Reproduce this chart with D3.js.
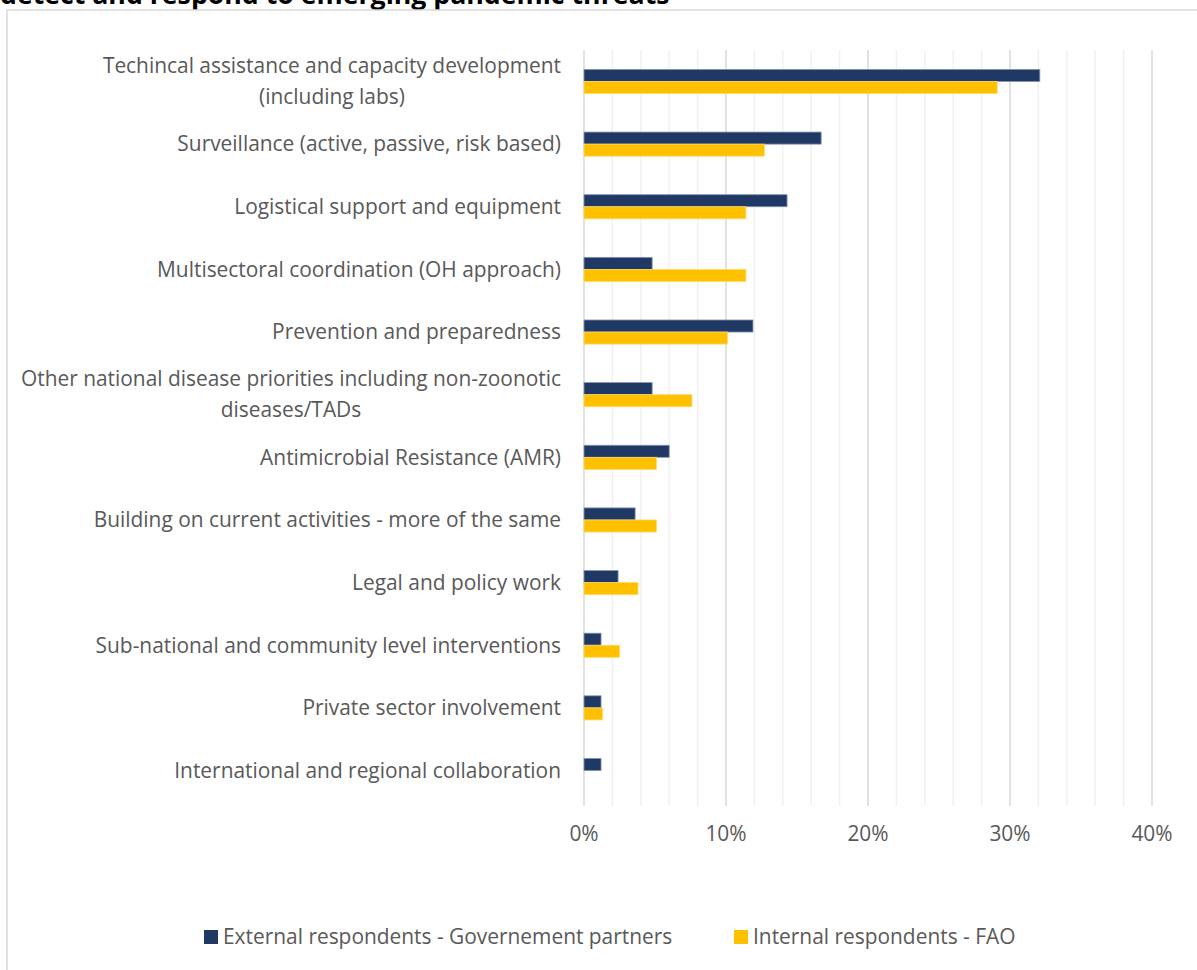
<!DOCTYPE html>
<html>
<head>
<meta charset="utf-8">
<script src="https://cdn.jsdelivr.net/npm/d3@7"></script>
<style>
  body { margin: 0; background: #fff; }
  svg { display: block; }
</style>
</head>
<body>
<svg width="1197" height="970"></svg>
<script>
// categories (top to bottom), values in %
var categories = [
  ["Techincal assistance and capacity development", "(including labs)"],
  ["Surveillance (active, passive, risk based)"],
  ["Logistical support and equipment"],
  ["Multisectoral coordination (OH approach)"],
  ["Prevention and preparedness"],
  ["Other national disease priorities including non-zoonotic", "diseases/TADs"],
  ["Antimicrobial Resistance (AMR)"],
  ["Building on current activities - more of the same"],
  ["Legal and policy work"],
  ["Sub-national and community level interventions"],
  ["Private sector involvement"],
  ["International and regional collaboration"]
];
var external = [32.1, 16.7, 14.3, 4.8, 11.9, 4.8, 6.0, 3.6, 2.4, 1.2, 1.2, 1.2];
var internal = [29.1, 12.7, 11.4, 11.4, 10.1, 7.6, 5.1, 5.1, 3.8, 2.5, 1.3, 0];
var seriesNames = ["External respondents - Governement partners", "Internal respondents - FAO"];
var tickValues = [0, 10, 20, 30, 40];

var svg = d3.select("svg"),
    font = "'Open Sans', Lato, sans-serif",
    fontSize = 20.9,
    textColor = "#595959",
    colors = ["#203864", "#FFC000"],
    strokes = ["#8496b0", "#ffd966"];

// title, cut at the top edge
svg.append("text")
    .attr("x", 0)
    .attr("y", 4)
    .attr("font-family", font)
    .attr("font-weight", "bold")
    .attr("font-size", 26.7)
    .attr("fill", "#000")
    .text("detect and respond to emerging pandemic threats");

// chart area border
svg.append("rect")
    .attr("x", 7)
    .attr("y", 10)
    .attr("width", 1200)
    .attr("height", 980)
    .attr("fill", "none")
    .attr("stroke", "#d9d9d9")
    .attr("stroke-width", 1.5);

var x = d3.scaleLinear().domain([0, 40]).range([584, 1152]),
    y = d3.scaleBand().domain(d3.range(categories.length)).range([50, 802]).paddingInner(0.615).paddingOuter(0.31),
    ySub = d3.scaleBand().domain([0, 1]).range([0, y.bandwidth()]);

// gridlines
var grid = svg.append("g").attr("class", "grid");
grid.selectAll("line")
    .data(d3.range(0, 40.01, 2))
    .enter().append("line")
    .attr("x1", function(d) { return x(d); })
    .attr("x2", function(d) { return x(d); })
    .attr("y1", 50)
    .attr("y2", 806)
    .attr("stroke", function(d) { return d % 10 === 0 ? "#d9d9d9" : "#efefef"; })
    .attr("stroke-width", function(d) { return d % 10 === 0 ? 1.5 : 1.3; });

// bars
var series = [external, internal];
var bars = svg.append("g").attr("class", "bars");
series.forEach(function(vals, s) {
  bars.selectAll(".s" + s)
      .data(vals)
      .enter().append("rect")
      .attr("class", "s" + s)
      .attr("x", x(0))
      .attr("y", function(d, i) { return y(i) + ySub(s); })
      .attr("width", function(d) { return x(d) - x(0); })
      .attr("height", ySub.bandwidth())
      .attr("fill", colors[s])
      .attr("stroke", function(d) { return d > 0 ? strokes[s] : "none"; })
      .attr("stroke-width", 0.8);
});

// category labels
var labels = svg.append("g").attr("class", "labels");
categories.forEach(function(lines, i) {
  var cy = y(i) + y.bandwidth() / 2,
      lineH = 31,
      t = labels.append("text")
        .attr("font-family", font)
        .attr("font-size", fontSize)
        .attr("fill", textColor);
  lines.forEach(function(line, j) {
    t.append("tspan")
      .attr("y", cy + (j - (lines.length - 1) / 2) * lineH)
      .attr("dy", "0.35em")
      .text(line);
  });
  // right align the block, center lines within it
  var widths = [];
  t.selectAll("tspan").each(function() { widths.push(this.getComputedTextLength()); });
  var maxW = d3.max(widths), right = 561;
  t.selectAll("tspan")
    .attr("text-anchor", "middle")
    .attr("x", right - maxW / 2);
});

// x axis labels
svg.append("g").selectAll("text")
    .data(tickValues)
    .enter().append("text")
    .attr("x", function(d) { return x(d); })
    .attr("y", 834)
    .attr("dy", "0.35em")
    .attr("text-anchor", "middle")
    .attr("font-family", font)
    .attr("font-size", fontSize)
    .attr("fill", textColor)
    .text(function(d) { return d + "%"; });

// legend
var legendPos = [204, 734];
var legend = svg.append("g").attr("class", "legend");
seriesNames.forEach(function(name, s) {
  legend.append("rect")
      .attr("x", legendPos[s])
      .attr("y", 930)
      .attr("width", 14)
      .attr("height", 14)
      .attr("fill", colors[s]);
  legend.append("text")
      .attr("x", legendPos[s] + 19)
      .attr("y", 937)
      .attr("dy", "0.35em")
      .attr("font-family", font)
      .attr("font-size", fontSize)
      .attr("fill", textColor)
      .text(name);
});
</script>
</body>
</html>
